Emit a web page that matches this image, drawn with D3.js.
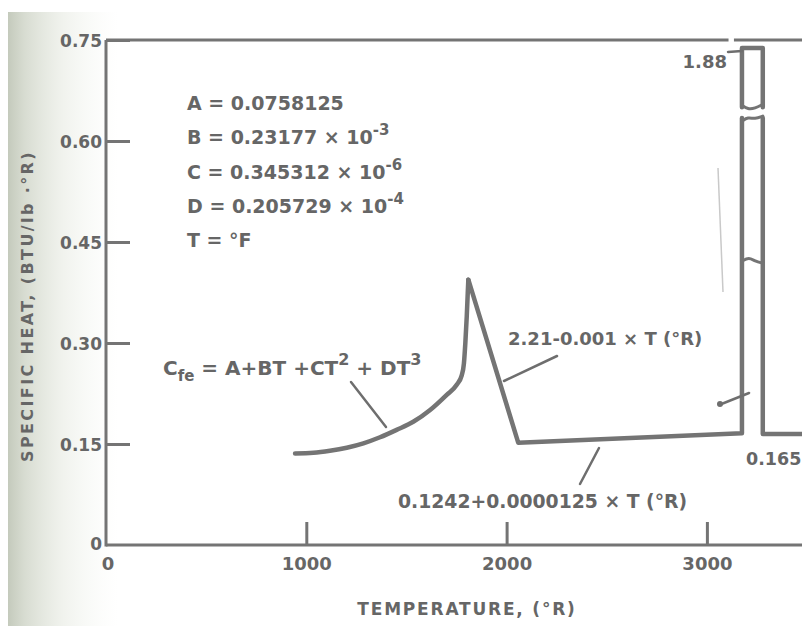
<!DOCTYPE html>
<html>
<head>
<meta charset="utf-8">
<script src="https://cdn.jsdelivr.net/npm/d3@7"></script>
<style>
  html, body { margin: 0; padding: 0; background: #fff; }
  svg { display: block; }
  text { font-family: "DejaVu Sans", sans-serif; font-weight: bold; fill: #666; }
</style>
</head>
<body>
<svg id="chart" width="802" height="626"></svg>
<script>
// Specific heat of iron vs. temperature (°R)
const xTicks = [1000, 2000, 3000];
const xTickLabels = ["1000", "2000", "3000"];
const yTicks = [0.15, 0.30, 0.45, 0.60, 0.75];
const yTickLabels = ["0.15", "0.30", "0.45", "0.60", "0.75"];

// Rising polynomial branch up to the Curie peak
const riseT  = [944, 1035, 1118, 1202, 1285, 1368, 1451, 1534, 1618, 1701, 1751, 1776, 1787, 1794, 1801, 1806, 1809];
const riseCp = [0.136, 0.137, 0.140, 0.1445, 0.151, 0.160, 0.171, 0.183, 0.2005, 0.223, 0.238, 0.252, 0.270, 0.300, 0.339, 0.374, 0.394];
// Linear drop (2.21 - 0.001 T) and slow linear rise (0.1242 + 0.0000125 T)
const linT  = [1809, 2058, 3175];
const linCp = [0.394, 0.152, 0.166];
// Phase-change spike (off scale, peak 1.88) and the level after it
const spikeT = [3175, 3279];
const spikePeak = 1.88;
const afterT  = [3279, 3480];
const afterCp = [0.165, 0.165];
const breakLow = 0.634, breakHigh = 0.65;

const coefLines = [
  { text: "A = 0.0758125", sup: "" },
  { text: "B = 0.23177 \u00d7 10", sup: "-3" },
  { text: "C = 0.345312 \u00d7 10", sup: "-6" },
  { text: "D = 0.205729 \u00d7 10", sup: "-4" },
  { text: "T = \u00b0F", sup: "" }
];

const svg = d3.select("#chart");
const ink = "#747474";

const x = d3.scaleLinear().domain([0, 3480]).range([106, 106 + 3480 * 0.2003]);
const y = d3.scaleLinear().domain([0, 0.75]).range([545, 40]);
// compressed scale for the off-scale part of the spike
const yUp = d3.scaleLinear().domain([breakHigh, spikePeak]).range([y(breakHigh), 48]);

// scanned-page edge shading on the left
const defs = svg.append("defs");
const grad = defs.append("linearGradient").attr("id", "edge").attr("x1", 0).attr("x2", 1);
grad.append("stop").attr("offset", 0).attr("stop-color", "#c4cabc").attr("stop-opacity", 1);
grad.append("stop").attr("offset", 0.15).attr("stop-color", "#d3d8cc").attr("stop-opacity", 0.9);
grad.append("stop").attr("offset", 0.5).attr("stop-color", "#e2e6dc").attr("stop-opacity", 0.5);
grad.append("stop").attr("offset", 1).attr("stop-color", "#f2f4ee").attr("stop-opacity", 0);
svg.append("rect").attr("x", 8).attr("y", 12).attr("width", 110).attr("height", 614).attr("fill", "url(#edge)");

// axes
const xAxis = d3.axisBottom(x).tickValues(xTicks).tickFormat((d, i) => xTickLabels[i]).tickSizeInner(-23).tickSizeOuter(0);
const gx = svg.append("g").attr("transform", `translate(0,${y(0)})`).call(xAxis);
gx.select(".domain").remove();
gx.selectAll(".tick line").attr("stroke", ink).attr("stroke-width", 3);
gx.selectAll(".tick text").attr("y", 25).attr("dy", 0).style("font-size", "18px").attr("fill", "#666");

const yAxis = d3.axisLeft(y).tickValues(yTicks).tickFormat((d, i) => yTickLabels[i]).tickSizeInner(-24).tickSizeOuter(0);
const gy = svg.append("g").attr("transform", `translate(${x(0)},0)`).call(yAxis);
gy.select(".domain").remove();
gy.selectAll(".tick line").attr("stroke", ink).attr("stroke-width", 3);
gy.selectAll(".tick text").attr("x", -4).attr("dy", "0.4em").style("font-size", "17px").attr("fill", "#666");
gy.append("text").attr("x", -4).attr("y", y(0)).attr("dy", "0.3em").attr("text-anchor", "end")
  .style("font-size", "17px").text("0");
gx.append("text").attr("x", x(0) + 2).attr("y", 25).attr("text-anchor", "middle").attr("dy", 0)
  .style("font-size", "18px").text("0");

// frame: left and bottom axis lines, top border with the break gap
const frame = svg.append("g").attr("stroke", ink).attr("stroke-width", 3).attr("fill", "none");
frame.append("line").attr("x1", x(0)).attr("x2", x(0)).attr("y1", y(0.75)).attr("y2", y(0) + 1.5);
frame.append("line").attr("x1", x(0)).attr("x2", 802).attr("y1", y(0)).attr("y2", y(0));
frame.append("line").attr("x1", x(0)).attr("x2", x(3108)).attr("y1", y(0.75)).attr("y2", y(0.75));
frame.append("line").attr("x1", x(3135)).attr("x2", 802).attr("y1", y(0.75)).attr("y2", y(0.75));

// data curve
const curve = svg.append("g").attr("fill", "none").attr("stroke", ink).attr("stroke-width", 4.5)
  .attr("stroke-linejoin", "round").attr("stroke-linecap", "round");
const riseLine = d3.line().x(d => x(d[0])).y(d => y(d[1])).curve(d3.curveMonotoneX);
curve.append("path").attr("d", riseLine(riseT.map((t, i) => [t, riseCp[i]])));
const straight = d3.line().x(d => x(d[0])).y(d => y(d[1]));
curve.append("path").attr("d", straight(linT.map((t, i) => [t, linCp[i]]).concat([[spikeT[0], breakLow]])));
curve.append("path").attr("d", straight([[spikeT[1], breakLow]].concat(afterT.map((t, i) => [t, afterCp[i]]))));

// spike above the break
const upLine = d3.line().x(d => x(d[0])).y(d => yUp(d[1]));
curve.append("path").attr("d", upLine([[spikeT[0], breakHigh], [spikeT[0], spikePeak], [spikeT[1], spikePeak], [spikeT[1], breakHigh]]));

// break marks
const wave = d3.line().curve(d3.curveBasis);
const xl = x(spikeT[0]), xr = x(spikeT[1]);
const marks = svg.append("g").attr("fill", "none").attr("stroke", ink).attr("stroke-width", 3).attr("stroke-linecap", "round");
marks.append("path").attr("d", wave([[xl, y(breakHigh) - 2], [xl + 6, y(breakHigh) + 2], [xl + 13, y(breakHigh) + 1], [xr, y(breakHigh) - 3]]));
marks.append("path").attr("d", wave([[xl, y(breakLow) + 3], [xl + 6, y(breakLow) - 1], [xl + 13, y(breakLow) + 1], [xr, y(breakLow) - 2]]));
marks.append("path").attr("d", wave([[xl, y(0.42) - 1], [xl + 7, y(0.42) - 5], [xl + 13, y(0.42) - 1], [xr, y(0.42) + 1]]));

// leader lines
const leaders = svg.append("g").attr("stroke", "#6e6e6e").attr("stroke-width", 2.5).attr("stroke-linecap", "round");
leaders.append("line").attr("x1", 351).attr("y1", 382).attr("x2", 386).attr("y2", 427);
leaders.append("line").attr("x1", 557).attr("y1", 356).attr("x2", 504).attr("y2", 381);
leaders.append("line").attr("x1", 580).attr("y1", 484).attr("x2", 599).attr("y2", 448);
leaders.append("line").attr("x1", 719).attr("y1", 405).attr("x2", 749).attr("y2", 393);
leaders.append("line").attr("x1", 728).attr("y1", 52).attr("x2", xl).attr("y2", 51);
svg.append("circle").attr("cx", 720).attr("cy", 404).attr("r", 3).attr("fill", "#6e6e6e");
svg.append("line").attr("x1", 718).attr("y1", 168).attr("x2", 723).attr("y2", 292)
  .attr("stroke", "#c9c9c9").attr("stroke-width", 1.5);

// coefficient block
const coef = svg.append("g");
coefLines.forEach((c, i) => {
  const t = coef.append("text").attr("x", 187).attr("y", 110 + i * 34.3).style("font-size", "19px");
  t.append("tspan").text(c.text);
  if (c.sup) t.append("tspan").attr("dy", -9).style("font-size", "15px").text(c.sup);
});

// equation labels
const eq = svg.append("text").attr("x", 163).attr("y", 375).style("font-size", "20px");
eq.append("tspan").text("C");
eq.append("tspan").attr("dy", 6).style("font-size", "15px").text("fe");
eq.append("tspan").attr("dy", -6).text(" = A+BT +CT");
eq.append("tspan").attr("dy", -10).style("font-size", "16px").text("2");
eq.append("tspan").attr("dy", 10).text(" + DT");
eq.append("tspan").attr("dy", -10).style("font-size", "16px").text("3");

svg.append("text").attr("x", 508).attr("y", 345).style("font-size", "18px").text("2.21-0.001 \u00d7 T (\u00b0R)");
svg.append("text").attr("x", 398).attr("y", 508).style("font-size", "18.8px").text("0.1242+0.0000125 \u00d7 T (\u00b0R)");
svg.append("text").attr("x", 727).attr("y", 68).attr("text-anchor", "end").style("font-size", "18px").text("1.88");
svg.append("text").attr("x", 746).attr("y", 465).style("font-size", "17.5px").text("0.165");

// axis titles
svg.append("text").attr("x", 467).attr("y", 615).attr("text-anchor", "middle")
  .style("font-size", "17px").style("letter-spacing", "1.8px").text("TEMPERATURE, (\u00b0R)");
svg.append("text").attr("transform", "translate(33,306) rotate(-90)").attr("text-anchor", "middle")
  .style("font-size", "16px").style("letter-spacing", "2.4px").text("SPECIFIC HEAT, (BTU/lb \u00b7\u00b0R)");
</script>
</body>
</html>
